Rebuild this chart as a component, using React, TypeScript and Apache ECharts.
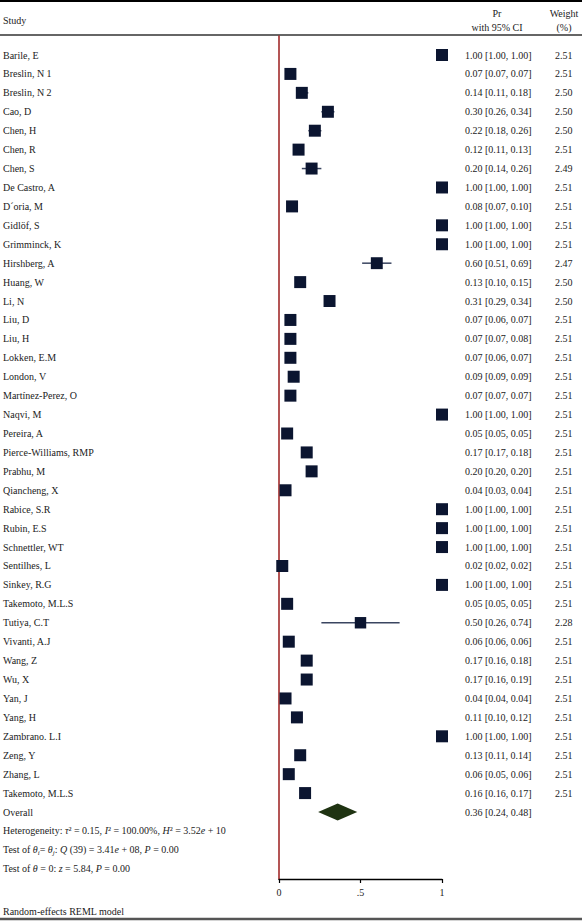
import React, { useEffect, useRef } from "react";
import * as echarts from "echarts";

const studies = [
  "Barile, E", "Breslin, N 1", "Breslin, N 2", "Cao, D", "Chen, H", "Chen, R", "Chen, S",
  "De Castro, A", "D´oria, M", "Gidlöf, S", "Grimminck, K", "Hirshberg, A", "Huang, W", "Li, N",
  "Liu, D", "Liu, H", "Lokken, E.M", "London, V", "Martínez-Perez, O", "Naqvi, M", "Pereira, A",
  "Pierce-Williams, RMP", "Prabhu, M", "Qiancheng, X", "Rabice, S.R", "Rubin, E.S", "Schnettler, WT",
  "Sentilhes, L", "Sinkey, R.G", "Takemoto, M.L.S", "Tutiya, C.T", "Vivanti, A.J", "Wang, Z", "Wu, X",
  "Yan, J", "Yang, H", "Zambrano. L.I", "Zeng, Y", "Zhang, L", "Takemoto, M.L.S",
];
const estimates = [
  1.0, 0.07, 0.14, 0.3, 0.22, 0.12, 0.2, 1.0, 0.08, 1.0, 1.0, 0.6, 0.13, 0.31, 0.07, 0.07, 0.07, 0.09,
  0.07, 1.0, 0.05, 0.17, 0.2, 0.04, 1.0, 1.0, 1.0, 0.02, 1.0, 0.05, 0.5, 0.06, 0.17, 0.17, 0.04, 0.11,
  1.0, 0.13, 0.06, 0.16,
];
const lower = [
  1.0, 0.07, 0.11, 0.26, 0.18, 0.11, 0.14, 1.0, 0.07, 1.0, 1.0, 0.51, 0.1, 0.29, 0.06, 0.07, 0.06, 0.09,
  0.07, 1.0, 0.05, 0.17, 0.2, 0.03, 1.0, 1.0, 1.0, 0.02, 1.0, 0.05, 0.26, 0.06, 0.16, 0.16, 0.04, 0.1,
  1.0, 0.11, 0.05, 0.16,
];
const upper = [
  1.0, 0.07, 0.18, 0.34, 0.26, 0.13, 0.26, 1.0, 0.1, 1.0, 1.0, 0.69, 0.15, 0.34, 0.07, 0.08, 0.07, 0.09,
  0.07, 1.0, 0.05, 0.18, 0.2, 0.04, 1.0, 1.0, 1.0, 0.02, 1.0, 0.05, 0.74, 0.06, 0.18, 0.19, 0.04, 0.12,
  1.0, 0.14, 0.06, 0.17,
];
const weights = [
  2.51, 2.51, 2.5, 2.5, 2.5, 2.51, 2.49, 2.51, 2.51, 2.51, 2.51, 2.47, 2.5, 2.5, 2.51, 2.51, 2.51, 2.51,
  2.51, 2.51, 2.51, 2.51, 2.51, 2.51, 2.51, 2.51, 2.51, 2.51, 2.51, 2.51, 2.28, 2.51, 2.51, 2.51, 2.51,
  2.51, 2.51, 2.51, 2.51, 2.51,
];
const overall = { label: "Overall", est: 0.36, lo: 0.24, hi: 0.48 };
const xTicks = [0, 0.5, 1];
const xTickLabels = ["0", ".5", "1"];

const FONT = "'Liberation Serif', 'Times New Roman', serif";
const TXT = "#222";
const SQUARE = "#0b1530";
const WHISKER = "#3a4560";
const DIAMOND = "#1f3312";
const RED = "#9b1c1c";

const fmt = (v: number) => v.toFixed(2);

export default function App() {
  const ref = useRef<HTMLDivElement>(null);
  useEffect(() => {
    if (!ref.current) return;
    const chart = echarts.init(ref.current, null, { renderer: "svg" });
    const textStyle = (text: string, x: number, y: number, align = "left", extra: any = {}) => ({
      text,
      x,
      y,
      fill: TXT,
      fontSize: 10,
      fontFamily: FONT,
      align,
      verticalAlign: "middle",
      ...extra,
    });
    const richBase = {
      i: { fontStyle: "italic", fontFamily: FONT, fontSize: 10, fill: TXT, lineHeight: 14 },
      s: { fontStyle: "italic", fontFamily: FONT, fontSize: 7, fill: TXT, lineHeight: 9, verticalAlign: "bottom" },
    };
    const statLines = [
      "Heterogeneity: {i|τ}² = 0.15, {i|I}² = 100.00%, {i|H}² = 3.52{i|e} + 10",
      "Test of {i|θ}{s|i}= {i|θ}{s|j}: {i|Q} (39) = 3.41{i|e} + 08, {i|P} = 0.00",
      "Test of {i|θ} = 0: {i|z} = 5.84, {i|P} = 0.00",
    ];

    const option: any = {
      animation: false,
      grid: { left: 279, width: 163, top: 36, height: 843, containLabel: false },
      xAxis: {
        type: "value",
        min: 0,
        max: 1,
        interval: 0.5,
        position: "bottom",
        axisLine: { show: true, onZero: false, lineStyle: { color: "#000", width: 1.3 } },
        axisTick: { show: true, length: 4, lineStyle: { color: "#000", width: 1.2 } },
        axisLabel: {
          margin: 8,
          fontSize: 10,
          fontFamily: FONT,
          color: TXT,
          formatter: (v: number) => {
            const k = xTicks.findIndex((t) => Math.abs(t - v) < 1e-9);
            return k >= 0 ? xTickLabels[k] : "";
          },
        },
        splitLine: { show: false },
      },
      yAxis: {
        type: "value",
        inverse: true,
        min: -1.004,
        max: 43.54,
        axisLine: { show: true, onZero: false, lineStyle: { color: RED, width: 1.5 } },
        axisTick: { show: false },
        axisLabel: { show: false },
        splitLine: { show: false },
      },
      series: [
        {
          type: "custom",
          clip: false,
          encode: { x: [1, 2, 3], y: 0 },
          data: studies.map((_, i) => [i, estimates[i], lower[i], upper[i], weights[i]]),
          renderItem: (params: any, api: any) => {
            const i = api.value(0);
            const c = api.coord([api.value(1), i]);
            const cl = api.coord([api.value(2), i]);
            const ch = api.coord([api.value(3), i]);
            const size = 12 * Math.sqrt(api.value(4) / 2.51);
            return {
              type: "group",
              children: [
                {
                  type: "line",
                  shape: { x1: cl[0], y1: c[1], x2: ch[0], y2: c[1] },
                  style: { stroke: WHISKER, lineWidth: 1.5 },
                },
                {
                  type: "rect",
                  shape: { x: c[0] - size / 2, y: c[1] - size / 2, width: size, height: size },
                  style: { fill: SQUARE },
                },
                { type: "text", style: textStyle(studies[i], 3, c[1]) },
                {
                  type: "text",
                  style: textStyle(`${fmt(estimates[i])} [${fmt(lower[i])}, ${fmt(upper[i])}]`, 465, c[1]),
                },
                { type: "text", style: textStyle(fmt(weights[i]), 555, c[1]) },
              ],
            };
          },
        },
        {
          type: "custom",
          clip: false,
          encode: { x: [1, 2, 3], y: 0 },
          data: [[studies.length, overall.est, overall.lo, overall.hi]],
          renderItem: (params: any, api: any) => {
            const i = api.value(0);
            const c = api.coord([api.value(1), i]);
            const cl = api.coord([api.value(2), i]);
            const ch = api.coord([api.value(3), i]);
            const hh = 8.5;
            return {
              type: "group",
              children: [
                {
                  type: "polygon",
                  shape: { points: [[cl[0], c[1]], [c[0], c[1] - hh], [ch[0], c[1]], [c[0], c[1] + hh]] },
                  style: { fill: DIAMOND },
                },
                { type: "text", style: textStyle(overall.label, 3, c[1]) },
                {
                  type: "text",
                  style: textStyle(`${fmt(overall.est)} [${fmt(overall.lo)}, ${fmt(overall.hi)}]`, 465, c[1]),
                },
              ],
            };
          },
        },
        {
          type: "custom",
          clip: false,
          encode: { y: 0 },
          data: statLines.map((_, k) => [studies.length + 1 + k, 0]),
          renderItem: (params: any, api: any) => {
            const i = api.value(0);
            const c = api.coord([0, i]);
            const k = params.dataIndex;
            return {
              type: "text",
              style: textStyle(statLines[k], 3, c[1], "left", { rich: richBase, lineHeight: 14 }),
            };
          },
        },
      ],
      graphic: [
        { type: "line", shape: { x1: 0, y1: 1, x2: 582, y2: 1 }, style: { stroke: "#000", lineWidth: 2 } },
        { type: "line", shape: { x1: 0, y1: 35, x2: 582, y2: 35 }, style: { stroke: "#666", lineWidth: 2 } },
        { type: "line", shape: { x1: 0, y1: 919, x2: 582, y2: 919 }, style: { stroke: "#555", lineWidth: 2.5 } },
        { type: "text", style: textStyle("Study", 3, 20) },
        { type: "text", style: textStyle("Pr", 497, 13, "center") },
        { type: "text", style: textStyle("with 95% CI", 497, 27, "center") },
        { type: "text", style: textStyle("Weight", 564, 13, "center") },
        { type: "text", style: textStyle("(%)", 564, 27, "center") },
        { type: "text", style: textStyle("Random-effects REML model", 3, 911) },
      ],
    };
    chart.setOption(option);
    return () => chart.dispose();
  }, []);
  return (
    <div
      ref={ref}
      style={{ position: "fixed", left: 0, top: 0, width: 582, height: 921, background: "#fff" }}
    />
  );
}
